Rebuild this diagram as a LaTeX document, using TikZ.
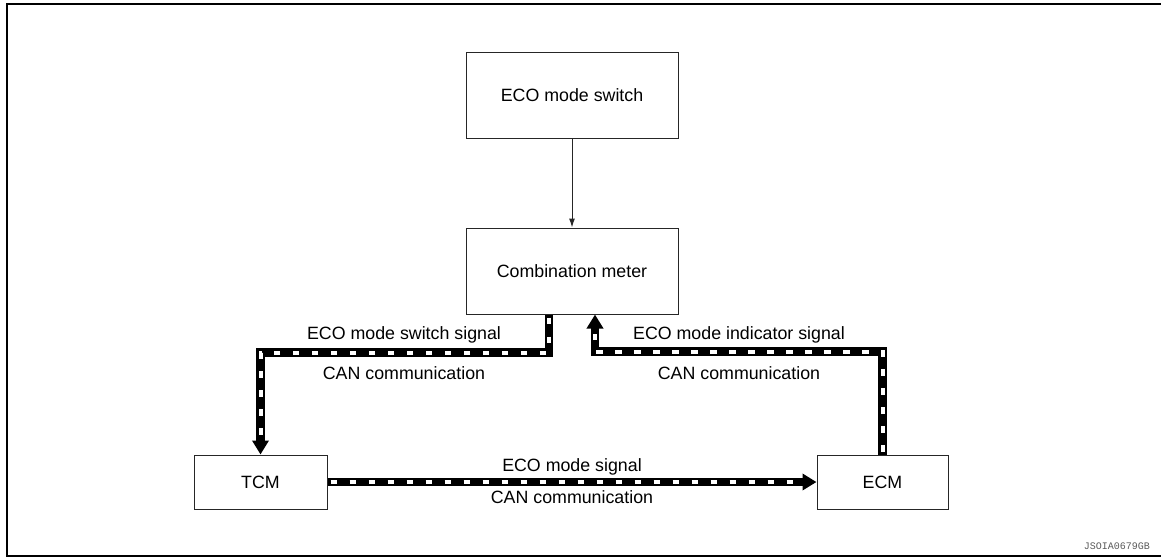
\documentclass[tikz,border=0pt]{standalone}
\usepackage{fontspec}
\setmainfont{Liberation Sans}
\newfontfamily\idfont{Liberation Mono}
\usetikzlibrary{arrows.meta}
\begin{document}
\begin{tikzpicture}[x=1pt,y=-1pt,
  box/.style={draw=black!85, line width=1pt, minimum width=212pt, minimum height=86pt,
    inner sep=0pt, font=\fontsize{17.8}{20}\selectfont},
  lbl/.style={inner sep=0pt, anchor=base, font=\fontsize{17.8}{20}\selectfont},
  thinarrow/.style={draw=black!85, line width=1pt, -{Latex[length=9pt,width=6pt]}},
  can/.style={line width=8.5pt, -{Triangle[length=14pt,width=16pt]},
    postaction={draw=white, line width=4pt, dash pattern=on 6.5pt off 12.5pt,
      dash phase=-3pt, shorten >=16pt, -}}
]
\useasboundingbox (0,0) rectangle (1161,558);
\draw[line width=2.5pt] (1161,4) -- (7,4) -- (7,556) -- (1161,556);

\node[box] (sw) at (572,95) {ECO mode switch};
\node[box] (cm) at (572,271) {Combination meter};
\node[box, minimum width=133pt, minimum height=54pt] (tcm) at (260.5,482) {TCM};
\node[box, minimum width=131pt, minimum height=54pt] (ecm) at (882.5,482) {ECM};

\draw[thinarrow] (sw) -- (cm);

\draw[can] ([xshift=-23pt]cm.south) -- ++(0,38) -| (tcm.north);
\draw[can] (ecm.north) -- ++(0,-103) -| ([xshift=23pt]cm.south);
\draw[can] (tcm.east) -- (ecm.west);

\node[lbl] (a1) at (404,339.5) {ECO mode switch signal};
\node[lbl] (a2) at (404,379) {CAN communication};
\node[lbl] (b1) at (739,339.5) {ECO mode indicator signal};
\node[lbl] (b2) at (739,379) {CAN communication};
\node[lbl] (c1) at (572,471) {ECO mode signal};
\node[lbl] (c2) at (572,503) {CAN communication};
\node[anchor=base east, inner sep=0pt, text=black!65,
  font=\idfont\fontsize{10}{12}\selectfont] (id) at (1150,549) {JSOIA0679GB};
\end{tikzpicture}
\end{document}
